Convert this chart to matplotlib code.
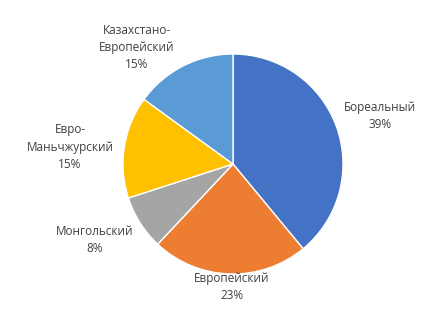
import matplotlib
matplotlib.use("Agg")
import matplotlib.pyplot as plt

# Доли типов (данные с диаграммы)
names = ["Бореальный", "Европейский", "Монгольский", "Евро-\nМаньчжурский", "Казахстано-\nЕвропейский"]
shares = [39, 23, 8, 15, 15]
colors = ["#4472C4", "#ED7D31", "#A5A5A5", "#FFC000", "#5B9BD5"]

# положение подписей (пиксели картинки, центр текста)
label_pos = [(380, 116), (232, 287), (95, 240), (70, 147), (137, 48)]

W, H = 440, 316
fig = plt.figure(figsize=(W / 100, H / 100), dpi=100)
ax = fig.add_axes([0, 0, 1, 1])

ax.pie(shares, colors=colors, startangle=90, counterclock=False,
       center=(233, H - 164), radius=110,
       wedgeprops=dict(edgecolor="white", linewidth=1.0))

for name, val, (x, y) in zip(names, shares, label_pos):
    ax.text(x, H - y, f"{name}\n{val}%", ha="center", va="center",
            fontsize=8.5, color="#404040", family="Open Sans", linespacing=1.4)

ax.set_xlim(0, W)
ax.set_ylim(0, H)
ax.axis("off")
fig.savefig("out.png", dpi=100)
